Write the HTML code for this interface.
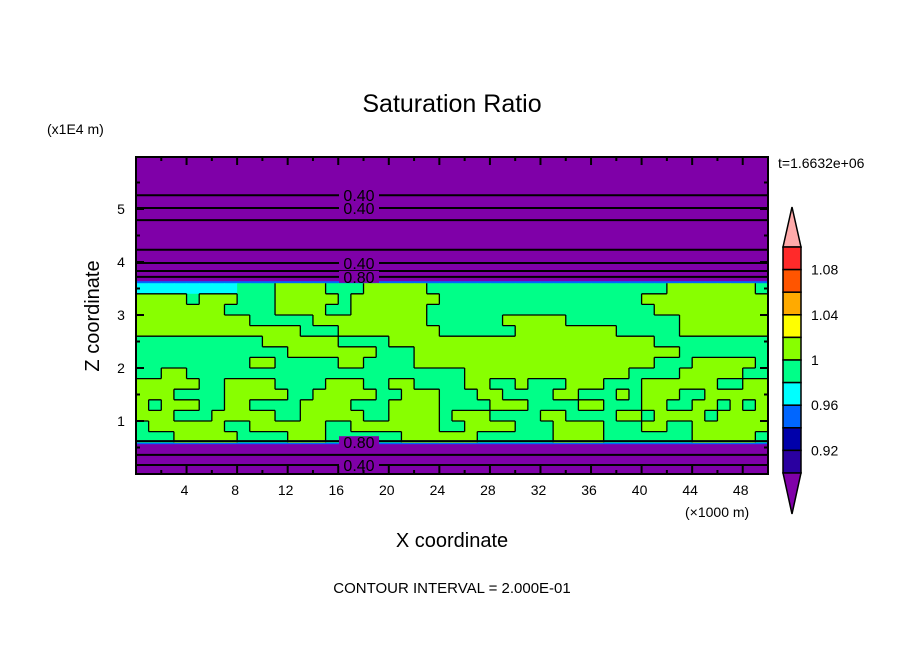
<!DOCTYPE html>
<html><head><meta charset="utf-8"><style>
body{margin:0;background:#fff;}
svg{display:block;font-family:"Liberation Sans",sans-serif;}
</style></head><body>
<svg id="chart" width="904" height="654" viewBox="0 0 904 654" xmlns="http://www.w3.org/2000/svg">
<text x="452" y="112" text-anchor="middle" font-size="25">Saturation Ratio</text>
<text x="47" y="134" font-size="14">(x1E4 m)</text>
<text x="778" y="168" font-size="14">t=1.6632e+06</text>
<text transform="translate(99,316) rotate(-90)" text-anchor="middle" font-size="20">Z coordinate</text>
<text x="452" y="547" text-anchor="middle" font-size="20">X coordinate</text>
<text x="685" y="517" font-size="14">(×1000 m)</text>
<text x="452" y="593" text-anchor="middle" font-size="15">CONTOUR INTERVAL = 2.000E-01</text>
<g id="plot"></g>
<g id="cbar"></g>
</svg>
<script>
const xTicks=[4,8,12,16,20,24,28,32,36,40,44,48];
const yTicks=[1,2,3,4,5];
const contourLevels=[5.26,5.02,4.79,4.23,3.98,3.83,3.72,0.62,0.36,0.17];
const contourLabels=[{z:5.26,t:"0.40"},{z:5.02,t:"0.40"},{z:3.98,t:"0.40"},{z:3.72,t:"0.80"},{z:0.60,t:"0.80"},{z:0.17,t:"0.40"}];
const bandTop=3.6, bandBottom=0.6, rowStep=0.2;
// g=0.99 (green), y=1.01 (yellow-green), c=0.97 (cyan)
const fieldRows=[
"ccccccccgggyyyygggyyyyygggggggggggggggggggyyyyyyyg",
"yyyygyyygggyyyyygyyyyyyyggggggggggggggggyyyyyyyyyy",
"yyyyyyyggggyyyyggyyyyyyggggggggggggggggggyyyyyyyyy",
"yyyyyyyyygggggyyyyyyyyyggggggyyyyygggggggggyyyyyyy",
"yyyyyyyyyyyyygggyyyyyyyyggggggyyyyyyyygggggyyyyyyy",
"ggggggggggyyyyyyggggyyyyyyyyyyyyyyyyyyyyyggggggggg",
"ggggggggggggyyyyyyygggyyyyyyyyyyyyyyyyyyyyyggggggg",
"gggggggggyygggggyyggggyyyyyyyyyyyyyyyyyyygggyyyyyg",
"ggyyggggggggggggggggggggggyyyyyyyyyyyyyggggyyyyygg",
"yyyyyggyyyyggggyyyggyyggggyyggygggyyygggyyyyyyggyy",
"yyyggggyyyyyggyyyyyggyyygggyyggggyygggygyyyggyyyyy",
"ygyyyggyyggggyyyygggyyyyggggyyyggggyygggyyggyygygy",
"yyygggyyyyyggyyyyyggyyyygyyyggggyyggggyygyyyygyyyy",
"gyyyyyyggyyyyyyggyyyyyyyggyyyygggyyyygggyyggyyyyyy",
"gggyyyyyggggyyyggggggyyyyyyggggggyyyygggggggyyyyyg"
];
const cbarColors=["#ff2a2a","#ff5500","#ffaa00","#ffff00","#88ff00","#00ff88","#00ffff","#0066ff","#0000aa","#2a00a0"];
const cbarLabels=["1.08","1.04","1","0.96","0.92"];

const NS="http://www.w3.org/2000/svg";
const X0=136,X1=768,Y0=474,YT=157;
const xs=v=>X0+v*(X1-X0)/50;
const ys=v=>Y0-v*53;
function mk(tag,attrs,parent){const e=document.createElementNS(NS,tag);for(const k in attrs)e.setAttribute(k,attrs[k]);parent.appendChild(e);return e;}
const plot=document.getElementById('plot');
const colMap={g:"#00ff88",y:"#88ff00",c:"#00ffff"};

let bg=mk('rect',{x:X0,y:YT,width:X1-X0,height:Y0-YT,fill:"#7f00a8"},plot);


let band=mk('rect',{x:X0,y:ys(bandTop)-2,width:X1-X0,height:ys(bandBottom)-ys(bandTop)+4,fill:"#0066ff"},plot);


const cw=(X1-X0)/50;
const grid=fieldRows.map(r=>(r+"g".repeat(50)).slice(0,50));
grid.forEach((row,ri)=>{
  const zt=bandTop-ri*rowStep, zb=zt-rowStep;
  for(let ci=0;ci<50;ci++){
    const c=mk('rect',{x:xs(ci),y:ys(zt),width:cw+0.5,height:ys(zb)-ys(zt)+0.5,fill:colMap[row[ci]]},plot);
    
    
  }
});
let d="";
grid.forEach((row,ri)=>{
  const zt=bandTop-ri*rowStep, zb=zt-rowStep;
  for(let ci=0;ci<50;ci++){
    const isY=row[ci]==='y';
    if(ci<49 && isY!==(row[ci+1]==='y')) d+=`M${xs(ci+1)},${ys(zt)}V${ys(zb)}`;
    if(ri<grid.length-1 && isY!==(grid[ri+1][ci]==='y')) d+=`M${xs(ci)},${ys(zb)}H${xs(ci+1)}`;
  }
});
let cl=mk('path',{d:d,stroke:"#000",'stroke-width':1.3,fill:"none"},plot);


contourLevels.forEach(z=>{
  const l=mk('line',{x1:X0,x2:X1,y1:ys(z),y2:ys(z),stroke:"#000",'stroke-width':2},plot);
  
  
});
contourLabels.forEach(o=>{
  const r=mk('rect',{x:339,y:ys(o.z)-6,width:40,height:12,fill:"#7f00a8"},plot);
  
  
  const t=mk('text',{x:359,y:ys(o.z)+6,'text-anchor':'middle','font-size':16},plot);
  t.textContent=o.t;
  
  
});
for(let v=2;v<50;v+=2){
  const L=v%4===0?8:4;
  mk('line',{x1:xs(v),x2:xs(v),y1:Y0,y2:Y0-L,stroke:"#000",'stroke-width':2},plot);
  mk('line',{x1:xs(v),x2:xs(v),y1:YT,y2:YT+L,stroke:"#000",'stroke-width':2},plot);
}
for(let v=0.5;v<6;v+=0.5){
  const L=Number.isInteger(v)?8:4;
  mk('line',{x1:X0,x2:X0+L,y1:ys(v),y2:ys(v),stroke:"#000",'stroke-width':2},plot);
  mk('line',{x1:X1,x2:X1-L,y1:ys(v),y2:ys(v),stroke:"#000",'stroke-width':2},plot);
}
xTicks.forEach(v=>{
  const t=mk('text',{x:xs(v)-2,y:495,'text-anchor':'middle','font-size':14},plot);
  t.textContent=v;
  
  
});
yTicks.forEach(v=>{
  const t=mk('text',{x:121,y:ys(v)+5,'text-anchor':'middle','font-size':14},plot);
  t.textContent=v;
  
  
});
let fr=mk('rect',{x:X0,y:YT,width:X1-X0,height:Y0-YT,fill:"none",stroke:"#000",'stroke-width':2},plot);


const cb=document.getElementById('cbar');
const CX=783,CW=18,CT=247,CH=22.6;
let tri=mk('polygon',{points:`${CX},${CT} ${CX+CW/2},207 ${CX+CW},${CT}`,fill:"#ffaaaa",stroke:"#000",'stroke-width':1.5},cb);


cbarColors.forEach((c,i)=>{
  const r=mk('rect',{x:CX,y:CT+i*CH,width:CW,height:CH,fill:c,stroke:"#000",'stroke-width':1.5},cb);
  
  
});
const CB=CT+cbarColors.length*CH;
let tri2=mk('polygon',{points:`${CX},${CB} ${CX+CW/2},514 ${CX+CW},${CB}`,fill:"#8000a8",stroke:"#000",'stroke-width':1.5},cb);


cbarLabels.forEach((s,i)=>{
  const t=mk('text',{x:811,y:CT+(i*2+1)*CH+5,'font-size':14},cb);
  t.textContent=s;
  
  
});
</script>
</body></html>
